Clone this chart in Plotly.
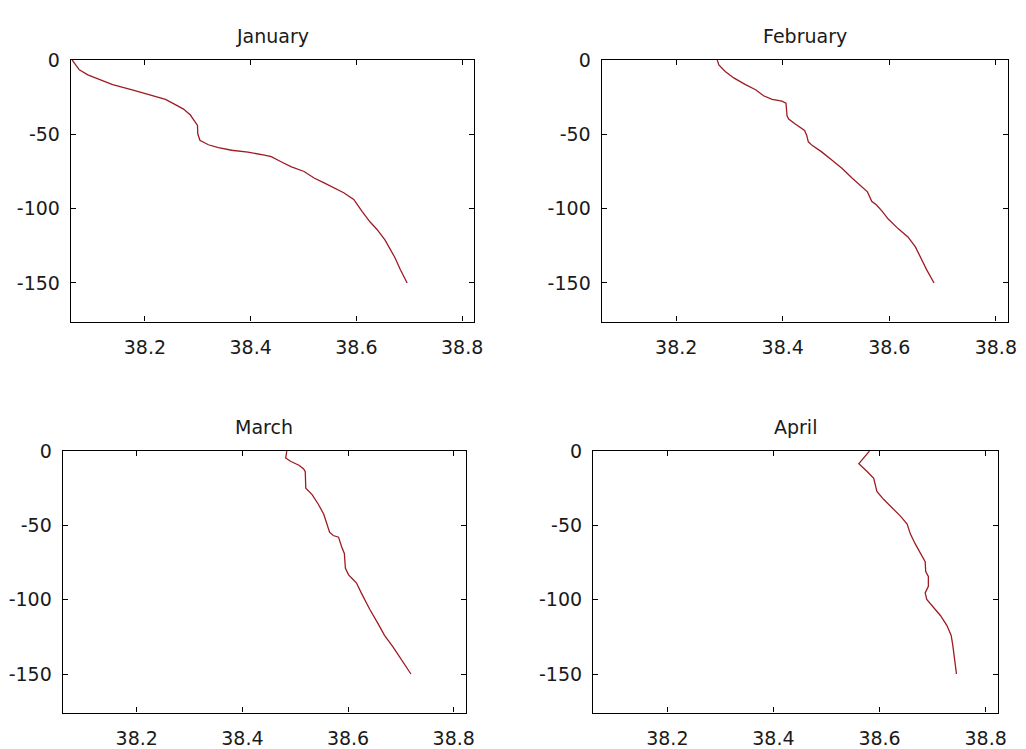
import plotly.graph_objects as go

# Monthly vertical profiles: value (x) against depth (y, metres, negative down)
jan_x = [38.0625, 38.076, 38.092, 38.114, 38.139, 38.176, 38.2075, 38.239, 38.2575, 38.273,
         38.286, 38.295, 38.2995, 38.300, 38.304, 38.320, 38.339, 38.364, 38.395, 38.426,
         38.439, 38.4575, 38.476, 38.501, 38.520, 38.539, 38.5575, 38.576, 38.595, 38.601,
         38.611, 38.626, 38.639, 38.654, 38.664, 38.673, 38.683, 38.696]
jan_y = [0, -6.6, -10, -13, -16.5, -20, -23, -26.5, -30, -33,
         -37, -42, -44, -49.6, -54, -57, -59, -60.7, -62, -64,
         -65, -68.4, -71.7, -75, -79.4, -82.7, -86, -89.3, -93.8, -97,
         -102, -109, -114, -121, -127, -133, -141, -150]

feb_x = [38.277, 38.280, 38.292, 38.308, 38.330, 38.349, 38.364, 38.380, 38.3985, 38.406,
         38.408, 38.411, 38.4235, 38.441, 38.445, 38.448, 38.455, 38.473, 38.492, 38.511,
         38.530, 38.548, 38.559, 38.567, 38.576, 38.586, 38.598, 38.617, 38.635, 38.649,
         38.657, 38.670, 38.684]
feb_y = [0, -3.3, -7.7, -12, -16.5, -20, -24, -26.5, -27.6, -29,
         -37.5, -39.7, -43, -47.4, -50.7, -55, -57.4, -61.8, -67.3, -72.8,
         -79.4, -85, -88.7, -95, -97.5, -101.5, -107, -113.6, -119, -125.7,
         -132, -141, -150]

mar_x = [38.484, 38.482, 38.491, 38.507, 38.516, 38.519, 38.520, 38.532, 38.544, 38.554,
         38.560, 38.565, 38.572, 38.582, 38.588, 38.593, 38.595, 38.601, 38.610, 38.616,
         38.625, 38.641, 38.657, 38.669, 38.685, 38.703, 38.719]
mar_y = [0, -4.6, -6.8, -9.5, -12, -13.9, -24.9, -29.3, -35.9, -42.5,
         -49, -54.6, -56.8, -57.9, -64.5, -68.9, -78.9, -83.3, -86.6, -88.8,
         -95.4, -106.4, -116.3, -124, -131.7, -141.6, -150]

apr_x = [38.581, 38.561, 38.577, 38.589, 38.592, 38.595, 38.608, 38.623, 38.639, 38.652,
         38.658, 38.667, 38.677, 38.686, 38.687, 38.692, 38.692, 38.686, 38.689, 38.702,
         38.715, 38.727, 38.735, 38.738, 38.740, 38.743, 38.745]
apr_y = [0, -8.4, -13.9, -18.3, -22.7, -27.1, -32.6, -38.1, -43.6, -49.1,
         -55.7, -62.3, -68.9, -74.4, -81, -84.4, -91, -95.4, -99.8, -105.3,
         -110.8, -117.4, -124, -130.6, -137.2, -143.8, -150]

months = ["January", "February", "March", "April"]
xs = [jan_x, feb_x, mar_x, apr_x]
ys = [jan_y, feb_y, mar_y, apr_y]

x_ticks = [38.2, 38.4, 38.6, 38.8]
y_ticks = [0, -50, -100, -150]
x_range = [38.06, 38.823]
y_range = [-176, 0]

W, H = 1026, 749
# panel boxes in pixels: (left, right, top, bottom)
panel_px = [
    (71.5, 478.5, 50, 316.5),
    (607, 1017, 50, 316.5),
    (63.3, 470, 448.5, 715),
    (598.3, 1006.7, 448.5, 715),
]

FONT = "DejaVu Sans"
LINE_COLOR = "#9e1b22"
TEXT_COLOR = "#1a1a1a"

fig = go.Figure()
layout = dict(
    width=W, height=H,
    margin=dict(l=0, r=0, t=0, b=0),
    paper_bgcolor="white", plot_bgcolor="white",
    showlegend=False,
    font=dict(family=FONT, size=19, color=TEXT_COLOR),
    annotations=[],
)

for i, name in enumerate(months):
    xa = "xaxis" if i == 0 else f"xaxis{i + 1}"
    ya = "yaxis" if i == 0 else f"yaxis{i + 1}"
    xref = "x" if i == 0 else f"x{i + 1}"
    yref = "y" if i == 0 else f"y{i + 1}"
    x0, x1, y0, y1 = panel_px[i]
    xdom = [x0 / W, x1 / W]
    ydom = [1 - y1 / H, 1 - y0 / H]

    fig.add_trace(go.Scatter(x=xs[i], y=ys[i], mode="lines",
                             line=dict(color=LINE_COLOR, width=1.3),
                             xaxis=xref, yaxis=yref, hoverinfo="skip"))

    common = dict(showgrid=False, zeroline=False, showline=True, linecolor="black",
                  linewidth=1.3, mirror="allticks", ticks="inside", ticklen=5,
                  tickcolor="black", tickwidth=1,
                  tickfont=dict(family=FONT, size=19, color=TEXT_COLOR))
    layout[xa] = dict(domain=xdom, range=x_range, tickvals=x_ticks,
                      ticktext=[f"{v:.1f}" for v in x_ticks], anchor=yref,
                      ticklabelstandoff=8, **common)
    layout[ya] = dict(domain=ydom, range=y_range, tickvals=y_ticks,
                      ticktext=[str(v) for v in y_ticks], anchor=xref,
                      ticklabelstandoff=6, **common)

    layout["annotations"].append(dict(
        text=name, x=(xdom[0] + xdom[1]) / 2, y=1 - (y0 - 25) / H,
        xref="paper", yref="paper", xanchor="center", yanchor="middle",
        showarrow=False, font=dict(family=FONT, size=19, color=TEXT_COLOR)))

fig.update_layout(**layout)
fig.write_html("out.html")
